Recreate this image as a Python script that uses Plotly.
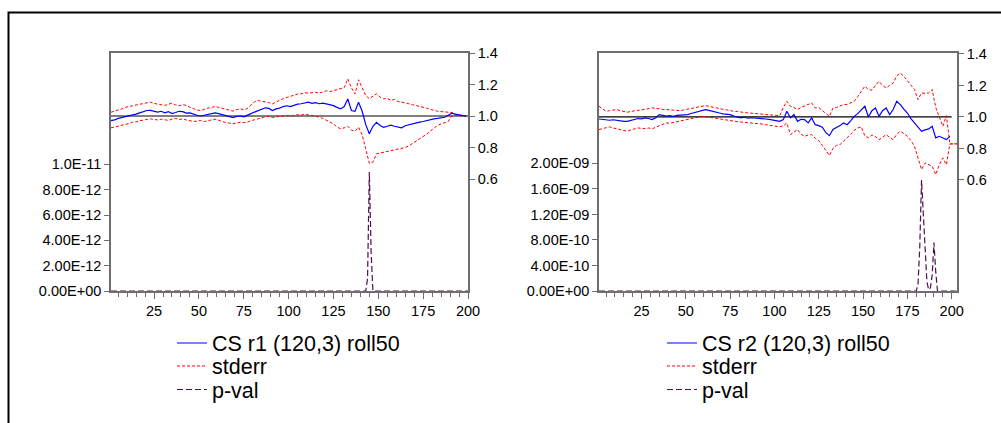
import plotly.graph_objects as go

# ---------------- data ----------------
x_roll = list(range(1, 200, 2))  # observation index (every 2nd obs)

cs_r1 = [0.970, 0.975, 0.985, 0.990, 0.998, 1.000, 1.008, 1.012, 1.020, 1.030,
         1.035, 1.036, 1.030, 1.025, 1.030, 1.020, 1.028, 1.015, 1.022, 1.030,
         1.028, 1.018, 1.020, 1.010, 1.005, 1.000, 1.005, 1.010, 1.012, 1.020,
         1.015, 1.008, 1.002, 0.995, 0.990, 0.998, 1.000, 0.995, 1.003, 1.015,
         1.025, 1.035, 1.040, 1.052, 1.048, 1.035, 1.045, 1.050, 1.060, 1.065,
         1.060, 1.070, 1.075, 1.078, 1.085, 1.088, 1.080, 1.085, 1.078, 1.082,
         1.077, 1.072, 1.066, 1.055, 1.045, 1.060, 1.108, 1.035, 1.030, 1.087,
         1.030, 0.945, 0.887, 0.935, 0.960, 0.940, 0.928, 0.935, 0.942, 0.935,
         0.930, 0.925, 0.938, 0.945, 0.948, 0.955, 0.961, 0.965, 0.972, 0.978,
         0.982, 0.985, 0.990, 0.992, 1.005, 1.018, 1.012, 1.005, 1.002, 1.000]

se_up_r1 = [1.024, 1.030, 1.040, 1.045, 1.055, 1.058, 1.065, 1.070, 1.075, 1.080,
            1.085, 1.088, 1.080, 1.075, 1.070, 1.067, 1.075, 1.081, 1.070, 1.065,
            1.072, 1.067, 1.055, 1.045, 1.038, 1.035, 1.045, 1.050, 1.055, 1.060,
            1.055, 1.048, 1.040, 1.035, 1.031, 1.040, 1.045, 1.040, 1.048, 1.070,
            1.090, 1.098, 1.095, 1.088, 1.085, 1.077, 1.090, 1.100, 1.110, 1.120,
            1.125, 1.132, 1.140, 1.141, 1.148, 1.145, 1.150, 1.151, 1.145, 1.155,
            1.160, 1.155, 1.162, 1.168, 1.172, 1.180, 1.236, 1.180, 1.140, 1.230,
            1.180, 1.130, 1.110, 1.125, 1.141, 1.120, 1.109, 1.112, 1.100, 1.105,
            1.092, 1.088, 1.085, 1.078, 1.072, 1.067, 1.062, 1.058, 1.050, 1.042,
            1.035, 1.030, 1.028, 1.025, 1.024, 1.022, 1.010, 1.006, 1.002, 1.000]

se_lo_r1 = [0.925, 0.930, 0.935, 0.940, 0.945, 0.952, 0.960, 0.962, 0.970, 0.975,
            0.980, 0.982, 0.978, 0.975, 0.980, 0.976, 0.972, 0.980, 0.985, 0.978,
            0.982, 0.975, 0.970, 0.965, 0.968, 0.971, 0.965, 0.968, 0.975, 0.980,
            0.972, 0.965, 0.958, 0.955, 0.950, 0.955, 0.960, 0.958, 0.961, 0.970,
            0.975, 0.982, 0.988, 0.995, 0.997, 0.990, 0.995, 0.998, 1.000, 1.003,
            1.000, 1.005, 1.008, 1.006, 1.010, 1.008, 1.004, 0.998, 0.993, 0.985,
            0.975, 0.962, 0.950, 0.930, 0.919, 0.925, 0.935, 0.910, 0.905, 0.929,
            0.880, 0.790, 0.700, 0.707, 0.760, 0.765, 0.770, 0.772, 0.778, 0.782,
            0.788, 0.792, 0.800, 0.810, 0.825, 0.840, 0.852, 0.868, 0.885, 0.905,
            0.925, 0.940, 0.950, 0.958, 0.965, 1.003, 1.005, 1.002, 1.000, 1.000]

pval_r1_x = [1, 143, 144, 145, 146, 147, 200]
pval_r1 = [0.0, 0.0, 1.0e-12, 9.4e-12, 3.0e-12, 0.0, 0.0]

cs_r2 = [0.987, 0.985, 0.980, 0.979, 0.982, 0.978, 0.975, 0.972, 0.972, 0.978,
         0.985, 0.990, 0.988, 0.994, 0.990, 0.983, 0.995, 1.015, 1.010, 1.005,
         1.008, 1.004, 1.010, 1.012, 1.015, 1.015, 1.022, 1.028, 1.035, 1.040,
         1.047, 1.042, 1.035, 1.030, 1.025, 1.020, 1.018, 1.015, 1.005, 1.000,
         0.994, 0.998, 0.992, 0.995, 0.994, 0.990, 0.988, 0.987, 0.985, 0.982,
         0.978, 0.972, 0.983, 1.036, 0.994, 1.015, 0.972, 0.985, 0.983, 0.962,
         0.994, 0.951, 0.945, 0.935, 0.900, 0.881, 0.920, 0.930, 0.945, 0.962,
         0.951, 0.975, 1.004, 1.021, 1.045, 1.068, 1.000, 1.040, 1.057, 1.004,
         1.040, 1.057, 1.015, 1.047, 1.099, 1.078, 1.050, 1.025, 0.990, 0.962,
         0.930, 0.909, 0.918, 0.924, 0.941, 0.867, 0.877, 0.865, 0.856, 0.877]

x_se_r2 = list(range(1, 204, 2))
se_up_r2 = [1.068, 1.050, 1.036, 1.040, 1.045, 1.047, 1.040, 1.035, 1.030, 1.035,
            1.040, 1.042, 1.045, 1.048, 1.052, 1.057, 1.055, 1.050, 1.048, 1.047,
            1.045, 1.042, 1.040, 1.040, 1.045, 1.050, 1.055, 1.057, 1.062, 1.070,
            1.072, 1.068, 1.062, 1.057, 1.052, 1.048, 1.045, 1.040, 1.036, 1.035,
            1.030, 1.028, 1.026, 1.025, 1.022, 1.020, 1.018, 1.015, 1.012, 1.012,
            1.010, 1.008, 1.060, 1.099, 1.068, 1.060, 1.047, 1.060, 1.070, 1.080,
            1.089, 1.057, 1.060, 1.040, 1.020, 1.004, 1.057, 1.060, 1.070, 1.078,
            1.080, 1.090, 1.099, 1.130, 1.160, 1.195, 1.174, 1.170, 1.200, 1.226,
            1.200, 1.184, 1.200, 1.216, 1.260, 1.279, 1.258, 1.230, 1.200, 1.174,
            1.110, 1.152, 1.150, 1.152, 1.174, 1.060, 1.000, 0.941, 1.008, 0.829,
            0.829, 0.829]

se_lo_r2 = [0.920, 0.925, 0.932, 0.937, 0.930, 0.925, 0.918, 0.912, 0.909, 0.918,
            0.925, 0.930, 0.928, 0.925, 0.930, 0.924, 0.935, 0.945, 0.955, 0.962,
            0.960, 0.965, 0.972, 0.978, 0.983, 0.985, 0.990, 0.995, 1.000, 1.004,
            1.002, 0.998, 0.996, 0.994, 0.990, 0.985, 0.980, 0.975, 0.972, 0.970,
            0.968, 0.966, 0.966, 0.962, 0.960, 0.958, 0.955, 0.951, 0.948, 0.945,
            0.940, 0.937, 0.945, 0.962, 0.888, 0.905, 0.920, 0.890, 0.877, 0.885,
            0.888, 0.865, 0.850, 0.820, 0.790, 0.755, 0.800, 0.820, 0.824, 0.845,
            0.867, 0.890, 0.915, 0.930, 0.937, 0.880, 0.867, 0.885, 0.875, 0.856,
            0.870, 0.888, 0.870, 0.856, 0.890, 0.909, 0.895, 0.877, 0.850, 0.814,
            0.740, 0.666, 0.708, 0.695, 0.687, 0.634, 0.697, 0.740, 0.697, 0.829,
            0.829, 0.829]

pval_r2_x = [1, 180, 181, 182, 183, 184, 185, 186, 187, 188, 189, 190, 191, 192, 203]
pval_r2 = [0.0, 0.0, 1.0e-10, 7.0e-10, 1.74e-9, 1.2e-9, 6.0e-10, 1.5e-10, 2.0e-11,
           5.0e-11, 2.5e-10, 7.6e-10, 3.0e-10, 0.0, 0.0]

ref_level = 1.0

left_ticks = [0, 2e-12, 4e-12, 6e-12, 8e-12, 1e-11]
left_ticktext = ["0.00E+00", "2.00E-12", "4.00E-12", "6.00E-12", "8.00E-12", "1.0E-11"]
right_ticks2 = [0, 4e-10, 8e-10, 1.2e-9, 1.6e-9, 2e-9]
right_ticktext2 = ["0.00E+00", "4.00E-10", "8.00E-10", "1.20E-09", "1.60E-09", "2.00E-09"]
ratio_ticks = [0.6, 0.8, 1.0, 1.2, 1.4]
ratio_ticktext = ["0.6", "0.8", "1.0", "1.2", "1.4"]

# ---------------- styles ----------------
W, H = 1001, 423
BLUE = "#0000ff"
RED = "#ff0000"
PURPLE = "#4d0f4d"
FRAME = "#6e6e6e"
FONT = "Liberation Sans, Arial, sans-serif"


def px(v):
    return v / W


def py(v):
    return 1 - v / H


fig = go.Figure()

panels = [
    dict(name="CS r1 (120,3) roll50", cs=cs_r1, xs=x_roll, up=se_up_r1, lo=se_lo_r1,
         pvx=pval_r1_x, pv=pval_r1, xa="x", ya="y", ya2="y2",
         legs=["legend", "legend2", "legend3"], refx=[1, 200]),
    dict(name="CS r2 (120,3) roll50", cs=cs_r2, xs=x_se_r2, up=se_up_r2, lo=se_lo_r2,
         pvx=pval_r2_x, pv=pval_r2, xa="x2", ya="y3", ya2="y4",
         legs=["legend4", "legend5", "legend6"], refx=[1, 200]),
]

for p in panels:
    fig.add_trace(go.Scatter(x=p["pvx"], y=p["pv"], mode="lines", name="p-val",
                             line=dict(color=PURPLE, width=1.2, dash="6px,3px"),
                             xaxis=p["xa"], yaxis=p["ya"], legend=p["legs"][2]))
    fig.add_trace(go.Scatter(x=p["refx"], y=[ref_level, ref_level], mode="lines",
                             line=dict(color="black", width=1.2), showlegend=False,
                             xaxis=p["xa"], yaxis=p["ya2"], hoverinfo="skip"))
    fig.add_trace(go.Scatter(x=p["xs"], y=p["up"], mode="lines", name="stderr",
                             line=dict(color=RED, width=1, dash="3px,2px"),
                             xaxis=p["xa"], yaxis=p["ya2"], legend=p["legs"][1],
                             legendgroup="se" + p["legs"][1]))
    fig.add_trace(go.Scatter(x=p["xs"], y=p["lo"], mode="lines", name="stderr",
                             line=dict(color=RED, width=1, dash="3px,2px"),
                             xaxis=p["xa"], yaxis=p["ya2"], legend=p["legs"][1],
                             legendgroup="se" + p["legs"][1], showlegend=False))
    fig.add_trace(go.Scatter(x=x_roll, y=p["cs"], mode="lines", name=p["name"],
                             line=dict(color=BLUE, width=1.2),
                             xaxis=p["xa"], yaxis=p["ya2"], legend=p["legs"][0]))

ydom = [py(291), py(53)]
tickfont = dict(family=FONT, size=14.5, color="black")

xcommon = dict(showline=True, linecolor=FRAME, linewidth=1.5, mirror=True,
               ticks="outside", ticklen=6, tickcolor=FRAME, tickwidth=1,
               tickvals=[25, 50, 75, 100, 125, 150, 175, 200],
               minor=dict(dtick=5, tick0=0, ticks="outside", ticklen=4,
                          tickcolor=FRAME, showgrid=False),
               showgrid=False, zeroline=False, tickfont=tickfont)

ycommon = dict(showline=True, linecolor=FRAME, linewidth=1.5, ticks="outside",
               ticklen=5, tickcolor=FRAME, showgrid=False, zeroline=False,
               tickfont=tickfont)

legend_rows = [343, 366, 389.5]
legend_x = {0: 172, 1: 662}
legs = {}
for pi in range(2):
    for ri, yrow in enumerate(legend_rows):
        key = "legend" if (pi == 0 and ri == 0) else "legend%d" % (pi * 3 + ri + 1)
        legs[key] = dict(x=px(legend_x[pi]), y=py(yrow), xanchor="left",
                         yanchor="middle", bgcolor="rgba(0,0,0,0)",
                         font=dict(family=FONT, size=21.5, color="black"),
                         itemwidth=30, borderwidth=0)

fig.update_layout(
    width=W, height=H,
    margin=dict(l=0, r=0, t=0, b=0, pad=0, autoexpand=False),
    paper_bgcolor="white", plot_bgcolor="white",
    font=dict(family=FONT, color="black"),
    xaxis=dict(domain=[px(111), px(468)], range=[1, 200], anchor="y", **xcommon),
    xaxis2=dict(domain=[px(599), px(957)], range=[1, 203], anchor="y3", **xcommon),
    yaxis=dict(domain=ydom, range=[0, 1.88e-11], anchor="x", side="left",
               tickvals=left_ticks, ticktext=left_ticktext, **ycommon),
    yaxis2=dict(domain=ydom, range=[-0.111, 1.4], anchor="x", overlaying="y",
                side="right", tickvals=ratio_ticks, ticktext=ratio_ticktext, **ycommon),
    yaxis3=dict(domain=ydom, range=[0, 3.73e-9], anchor="x2", side="left",
                tickvals=right_ticks2, ticktext=right_ticktext2, **ycommon),
    yaxis4=dict(domain=ydom, range=[-0.105, 1.406], anchor="x2", overlaying="y3",
                side="right", tickvals=ratio_ticks, ticktext=ratio_ticktext, **ycommon),
    shapes=[dict(type="rect", xref="paper", yref="paper",
                 x0=px(8.5), x1=1.05, y0=-0.1, y1=py(12.5),
                 line=dict(color="black", width=2), fillcolor="rgba(0,0,0,0)")],
    **legs,
)

fig.write_html("out.html")
